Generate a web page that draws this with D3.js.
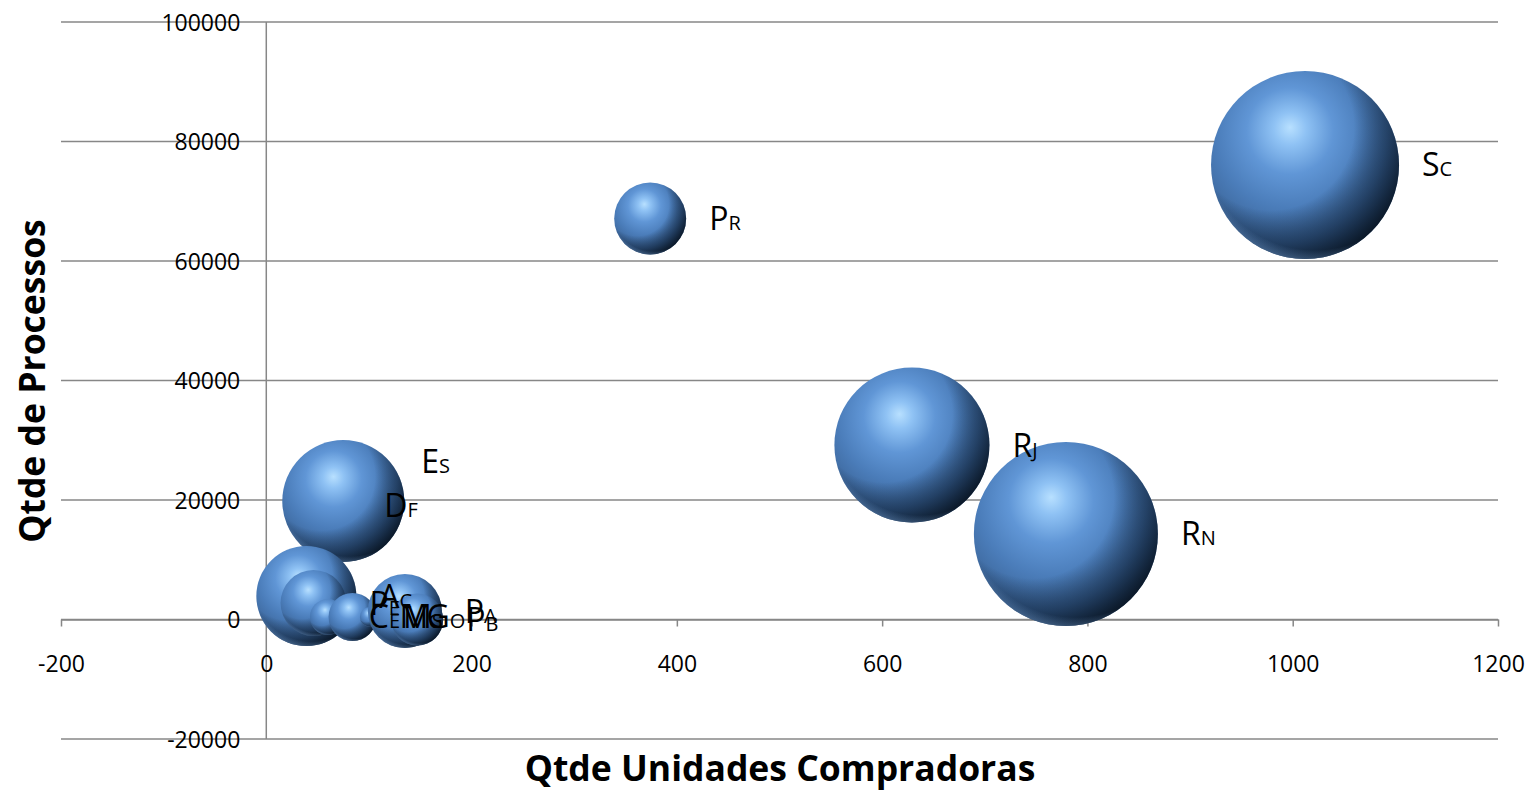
<!DOCTYPE html>
<html>
<head>
<meta charset="utf-8">
<script src="https://cdn.jsdelivr.net/npm/d3@7"></script>
<style>
  html, body { margin: 0; padding: 0; background: #ffffff; }
  svg { display: block; }
  text { font-family: "Open Sans", "Noto Sans", sans-serif; fill: #000; }
</style>
</head>
<body>
<svg id="chart" width="1531" height="793"></svg>
<script>
// ---- data ----
// draw order follows the spreadsheet order (later bubbles sit on top)
const states    = ["DF", "ES", "SC", "PR", "RJ", "RN", "AC", "PE", "CE", "MG", "MS", "GO", "PA", "PB"];
const unidades  = [72,   75,   1012, 374,  629,  779,  39,   46,   60,   84,   101,  122,  135,  147];
const processos = [19160, 19830, 76070, 67110, 29200, 14310, 3930, 2760, 420, 420, 420, 420, 1420, 0];
const valores   = [100,  842,  2000, 293,  1360, 1916, 566,  246,  73,   130,  23,   33,   310,  153];

const xTicks = [-200, 0, 200, 400, 600, 800, 1000, 1200];
const yTicks = [-20000, 0, 20000, 40000, 60000, 80000, 100000];

const xTitle = "Qtde Unidades Compradoras";
const yTitle = "Qtde de Processos";

// ---- layout ----
const svg = d3.select("#chart");
const plot = { left: 61, right: 1498, top: 22, bottom: 739 };

const x = d3.scaleLinear().domain([-200, 1200]).range([plot.left, plot.right]);
const y = d3.scaleLinear().domain([-20000, 100000]).range([plot.bottom, plot.top]);
const r = d3.scaleSqrt().domain([0, d3.max(valores)]).range([0, 94]);

// label nudges (pixels) for labels that were moved by hand in the original
const labelNudge = { ES: { dx: -6, dy: -40 } };

const plain = d => String(d);   // hyphen-minus like the original

// ---- gradients for the 3D bubbles ----
const defs = svg.append("defs");
const g1 = defs.append("radialGradient").attr("id", "ballBase")
  .attr("cx", 0.42).attr("cy", 0.36).attr("r", 0.72).attr("fx", 0.42).attr("fy", 0.3);
[[0, "#b8e0ff"], [0.12, "#8fc2f4"], [0.32, "#6096d6"], [0.55, "#4b7dba"], [0.8, "#3a6396"], [1, "#27466b"]]
  .forEach(([o, c]) => g1.append("stop").attr("offset", o).attr("stop-color", c));

const g2 = defs.append("radialGradient").attr("id", "ballShade")
  .attr("cx", 0.32).attr("cy", 0.3).attr("r", 0.88);
[[0, "#000", 0], [0.5, "#06101c", 0], [0.7, "#0a1a2e", 0.5], [0.86, "#07121f", 0.86], [1, "#03080f", 0.98]]
  .forEach(([o, c, a]) => g2.append("stop").attr("offset", o).attr("stop-color", c).attr("stop-opacity", a));

const g3 = defs.append("radialGradient").attr("id", "ballRim")
  .attr("cx", 0.55).attr("cy", 0.35).attr("r", 0.7);
[[0, "#7aa8e0", 0], [0.86, "#7aa8e0", 0], [0.97, "#82b0e6", 0.5], [1, "#82b0e6", 0.2]]
  .forEach(([o, c, a]) => g3.append("stop").attr("offset", o).attr("stop-color", c).attr("stop-opacity", a));

// ---- gridlines ----
const grid = svg.append("g");
grid.selectAll("line.h").data(yTicks).enter().append("line")
  .attr("x1", x(-200)).attr("x2", x(1200))
  .attr("y1", d => y(d)).attr("y2", d => y(d))
  .attr("stroke", "#878787").attr("stroke-width", 1.5);

// vertical axis line at x = 0
grid.append("line")
  .attr("x1", x(0)).attr("x2", x(0))
  .attr("y1", y(100000)).attr("y2", y(-20000))
  .attr("stroke", "#878787").attr("stroke-width", 1.5);

// ---- axes ----
const xAxis = d3.axisBottom(x).tickValues(xTicks).tickFormat(plain)
  .tickSizeInner(7).tickSizeOuter(0).tickPadding(29);
const gx = svg.append("g").attr("transform", `translate(0,${y(0)})`).call(xAxis);
gx.select(".domain").attr("stroke", "#878787").attr("stroke-width", 1.5);
gx.selectAll(".tick line").attr("stroke", "#878787").attr("stroke-width", 1.5);
gx.selectAll(".tick text").style("font-size", "23px").attr("fill", "#000");

const yAxis = d3.axisLeft(y).tickValues(yTicks).tickFormat(plain)
  .tickSize(0).tickPadding(26);
const gy = svg.append("g").attr("transform", `translate(${x(0)},0)`).call(yAxis);
gy.select(".domain").remove();
gy.selectAll(".tick text").style("font-size", "23px").attr("fill", "#000").attr("dy", "0.36em");

// ---- bubbles ----
const data = states.map((s, i) => ({ s, ux: unidades[i], py: processos[i], v: valores[i] }));
const bubbles = svg.append("g");
data.forEach(d => {
  const g = bubbles.append("g");
  ["ballBase", "ballShade", "ballRim"].forEach(id => {
    g.append("circle")
      .attr("cx", x(d.ux)).attr("cy", y(d.py)).attr("r", r(d.v))
      .attr("fill", `url(#${id})`);
  });
});

// ---- labels (right of each bubble) ----
const labels = svg.append("g");
data.forEach(d => {
  const n = labelNudge[d.s] || { dx: 0, dy: 0 };
  const t = labels.append("text")
    .attr("x", x(d.ux) + r(d.v) + 23 + n.dx)
    .attr("y", y(d.py) + 11.5 + n.dy);
  t.append("tspan").style("font-size", "32px").text(d.s[0]);
  t.append("tspan").style("font-size", "20px").text(d.s.slice(1));
});

// ---- axis titles ----
svg.append("text")
  .attr("x", 780).attr("y", 781)
  .attr("text-anchor", "middle")
  .style("font-size", "35.5px").style("font-weight", "bold")
  .text(xTitle);

svg.append("text")
  .attr("transform", "translate(45,381) rotate(-90)")
  .attr("text-anchor", "middle")
  .style("font-size", "35.5px").style("font-weight", "bold")
  .text(yTitle);
</script>
</body>
</html>
